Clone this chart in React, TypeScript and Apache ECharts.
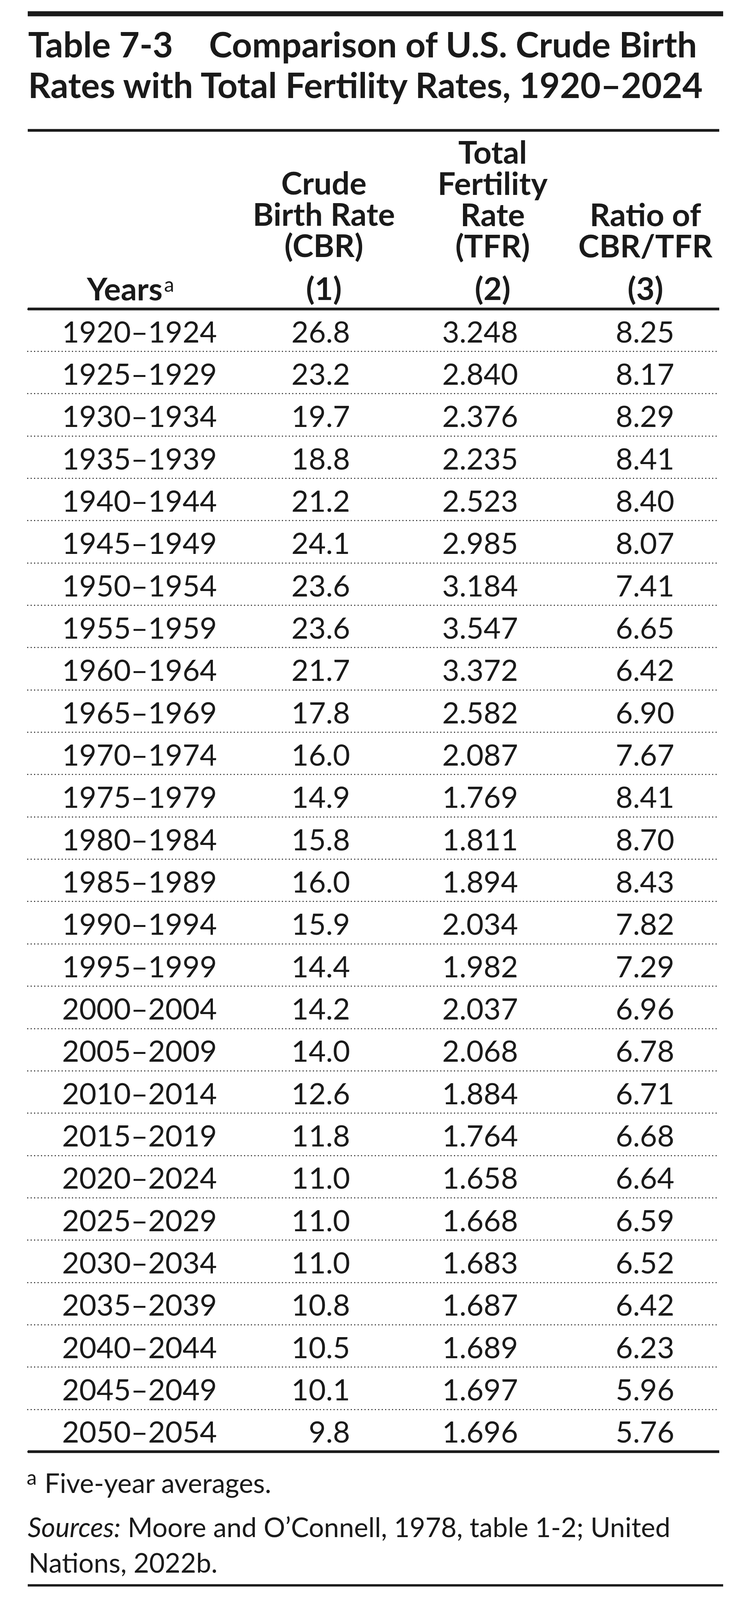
import React, { useEffect, useRef } from "react";
import * as echarts from "echarts";

// ---------- data ----------
const YEARS = [
  "1920–1924", "1925–1929", "1930–1934", "1935–1939", "1940–1944", "1945–1949",
  "1950–1954", "1955–1959", "1960–1964", "1965–1969", "1970–1974", "1975–1979",
  "1980–1984", "1985–1989", "1990–1994", "1995–1999", "2000–2004", "2005–2009",
  "2010–2014", "2015–2019", "2020–2024", "2025–2029", "2030–2034", "2035–2039",
  "2040–2044", "2045–2049", "2050–2054",
];
const CBR = [
  26.8, 23.2, 19.7, 18.8, 21.2, 24.1, 23.6, 23.6, 21.7, 17.8, 16.0, 14.9, 15.8,
  16.0, 15.9, 14.4, 14.2, 14.0, 12.6, 11.8, 11.0, 11.0, 11.0, 10.8, 10.5, 10.1, 9.8,
];
const TFR = [
  3.248, 2.84, 2.376, 2.235, 2.523, 2.985, 3.184, 3.547, 3.372, 2.582, 2.087,
  1.769, 1.811, 1.894, 2.034, 1.982, 2.037, 2.068, 1.884, 1.764, 1.658, 1.668,
  1.683, 1.687, 1.689, 1.697, 1.696,
];
const RATIO = [
  8.25, 8.17, 8.29, 8.41, 8.4, 8.07, 7.41, 6.65, 6.42, 6.9, 7.67, 8.41, 8.7, 8.43,
  7.82, 7.29, 6.96, 6.78, 6.71, 6.68, 6.64, 6.59, 6.52, 6.42, 6.23, 5.96, 5.76,
];

const TITLE_NUM = "Table 7-3";
const TITLE_L1 = "Comparison of U.S. Crude Birth";
const TITLE_L2 = "Rates with Total Fertility Rates, 1920–2024";
const HEAD_COL1 = ["Crude", "Birth Rate", "(CBR)"];
const HEAD_COL2 = ["Total", "Fertility", "Rate", "(TFR)"];
const HEAD_COL3 = ["Ratio of", "CBR/TFR"];
const HEAD_NUMS = ["(1)", "(2)", "(3)"];
const HEAD_YEARS = "Years";
const NOTE_A = "Five-year averages.";
const SOURCES_LABEL = "Sources:";
const SOURCES_1 = "Moore and O’Connell, 1978, table 1-2; United";
const SOURCES_2 = "Nations, 2022b.";

// ---------- layout / style ----------
const W = 1889;
const H = 4254;
const INK = "#1a1a1a";
const FAMILY = "Lato, 'Open Sans', sans-serif";
const LEFT = 71;
const RIGHT = 1841;
const GRID_TOP = 821.5;
const GRID_BOTTOM_Y = 3859.5;
const DATA_SIZE = 76;
const HEAD_SIZE = 81;
const HEAD_LEADING = 83;
const TITLE_SIZE = 90;
const NOTE_SIZE = 69;

export default function App() {
  const ref = useRef<HTMLDivElement>(null);

  useEffect(() => {
    document.body.style.margin = "0";
    if (!ref.current) return;
    const vh = window.innerHeight || H;
    const SY = Math.min(1, vh / H);
    const CH = Math.floor(H * SY);
    ref.current.style.height = CH + "px";
    const sy = (y: number) => y * SY;
    // middle of a Lato text line from its baseline
    const mid = (baseline: number, size: number) => sy(baseline) - 0.387 * size;

    const txt = (
      x: number,
      baseline: number,
      text: string,
      size: number,
      weight: number,
      align: string,
      extra: any = {}
    ) => ({
      type: "text",
      x,
      y: mid(baseline, size),
      silent: true,
      style: {
        text,
        fill: INK,
        fontFamily: FAMILY,
        fontSize: size,
        fontWeight: weight,
        lineHeight: Math.round(size * 0.92),
        align,
        verticalAlign: "middle",
        ...extra,
      },
    });

    // a stacked header block: lines given, baseline of the first line
    const block = (x: number, firstBaseline: number, lines: string[]) => {
      const lh = HEAD_LEADING * SY;
      return {
        type: "text",
        x,
        y: mid(firstBaseline, HEAD_SIZE) - lh / 2,
        silent: true,
        style: {
          text: lines.join("\n"),
          fill: INK,
          fontFamily: FAMILY,
          fontSize: HEAD_SIZE,
          fontWeight: 700,
          lineHeight: lh,
          align: "center",
          verticalAlign: "top",
        },
      };
    };

    const rule = (x: number, y: number, w: number, h: number) => ({
      type: "rect",
      silent: true,
      shape: { x, y: sy(y + h / 2) - h / 2, width: w, height: h },
      style: { fill: INK },
    });

    const chart = echarts.init(ref.current, null, { renderer: "svg", width: W, height: CH });

    const COLS = [
      { x: 357 - LEFT, align: "center", label: (i: number) => YEARS[i] },
      { x: 896 - LEFT, align: "right", label: (i: number) => CBR[i].toFixed(1) },
      { x: 1326 - LEFT, align: "right", label: (i: number) => TFR[i].toFixed(3) },
      { x: 1726 - LEFT, align: "right", label: (i: number) => RATIO[i].toFixed(2) },
    ];

    const series = COLS.map((col) => ({
      type: "custom",
      coordinateSystem: "cartesian2d",
      clip: false,
      silent: true,
      data: YEARS.map((_, i) => [col.x, i]),
      renderItem: (params: any, api: any) => {
        const p = api.coord([api.value(0), api.value(1)]);
        return {
          type: "text",
          x: p[0],
          y: p[1] + 2,
          style: {
            text: col.label(params.dataIndex),
            fill: INK,
            fontFamily: FAMILY,
            fontSize: DATA_SIZE,
            fontWeight: 400,
            lineHeight: 88,
            align: col.align,
            verticalAlign: "middle",
          },
        };
      },
    }));

    const c1 = 829, c2 = 1261, c3 = 1652;

    const graphics: any[] = [
      rule(LEFT, 30, 1851 - LEFT, 13),
      rule(LEFT, 343, RIGHT - LEFT, 7),
      rule(LEFT, 818, RIGHT - LEFT, 7),
      rule(LEFT, 3856, RIGHT - LEFT, 7),
      rule(LEFT, 4212, 1851 - LEFT, 6),
      txt(72, 152, TITLE_NUM, TITLE_SIZE, 700, "left"),
      txt(535, 152, TITLE_L1, TITLE_SIZE, 700, "left"),
      txt(72, 260, TITLE_L2, TITLE_SIZE, 700, "left"),
      txt(416, 798, HEAD_YEARS, HEAD_SIZE, 700, "right"),
      txt(420, 776, "a", 52, 400, "left"),
      block(c1, 517, HEAD_COL1),
      block(c2, 435, HEAD_COL2),
      block(c3, 601, HEAD_COL3),
      txt(c1, 797, HEAD_NUMS[0], HEAD_SIZE, 700, "center"),
      txt(c2, 797, HEAD_NUMS[1], HEAD_SIZE, 700, "center"),
      txt(c3, 797, HEAD_NUMS[2], HEAD_SIZE, 700, "center"),
      txt(94, 3948, "a", 52, 400, "right"),
      txt(114, 3970, NOTE_A, NOTE_SIZE, 400, "left"),
      {
        type: "text",
        x: 71,
        y: mid(4087, NOTE_SIZE),
        silent: true,
        style: {
          text: `{i|${SOURCES_LABEL}} {n|${SOURCES_1}}`,
          fill: INK,
          fontFamily: FAMILY,
          fontSize: NOTE_SIZE,
          lineHeight: 64,
          align: "left",
          verticalAlign: "middle",
          rich: {
            i: { fontStyle: "italic", fontFamily: FAMILY, fontSize: NOTE_SIZE, fill: INK, lineHeight: 64 },
            n: { fontFamily: FAMILY, fontSize: NOTE_SIZE, fill: INK, lineHeight: 64 },
          },
        },
      },
      txt(73, 4182, SOURCES_2, NOTE_SIZE, 400, "left"),
    ];

    chart.setOption({
      animation: false,
      backgroundColor: "#ffffff",
      grid: {
        left: LEFT,
        right: W - RIGHT,
        top: sy(GRID_TOP),
        bottom: CH - sy(GRID_BOTTOM_Y),
        containLabel: false,
      },
      xAxis: {
        type: "value",
        min: 0,
        max: RIGHT - LEFT,
        show: false,
      },
      yAxis: {
        type: "category",
        inverse: true,
        data: YEARS,
        boundaryGap: true,
        axisLine: { show: false },
        axisTick: { show: false },
        axisLabel: { show: false },
        splitLine: {
          show: true,
          lineStyle: { color: INK, width: 3, type: [0.01, 8.8], cap: "round" },
        },
      },
      series,
      graphic: { elements: graphics },
    });

    return () => chart.dispose();
  }, []);

  return <div ref={ref} style={{ width: W, height: H, background: "#fff" }} />;
}
